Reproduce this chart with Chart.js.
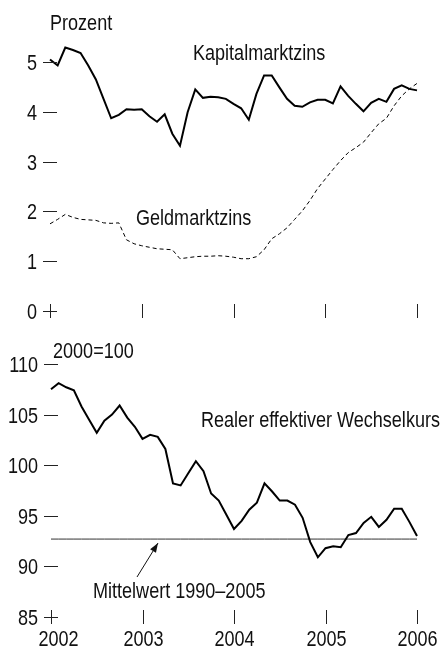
<!DOCTYPE html>
<html>
<head>
<meta charset="utf-8">
<script src="https://cdn.jsdelivr.net/npm/chart.js@4.4.1/dist/chart.umd.min.js"></script>
<style>
  html, body { margin: 0; padding: 0; background: #fff; }
  #wrap { position: relative; width: 442px; height: 649px; }
  .box { position: absolute; left: 0; width: 442px; }
  #top { top: 0; height: 330px; }
  #bottom { top: 330px; height: 319px; }
</style>
</head>
<body>
<div id="wrap">
  <div class="box" id="top"><canvas id="zinsChart"></canvas></div>
  <div class="box" id="bottom"><canvas id="kursChart"></canvas></div>
</div>
<script>
// Monate Jan 2002 bis Jan 2006
const months = [];
for (let y = 2002; y <= 2006; y++) {
    for (let m = 1; m <= 12; m++) {
        if (y === 2006 && m > 1) break;
        months.push(y + '-' + String(m).padStart(2, '0'));
    }
}
const yearLabels = ['2002', '2003', '2004', '2005', '2006'];

// Kapitalmarktzins (Prozent)
const kapitalmarktzins = [
    5.05, 4.93, 5.29, 5.24, 5.18, 4.93, 4.65, 4.26, 3.87, 3.94, 4.05, 4.04,
    4.05, 3.91, 3.80, 3.95, 3.56, 3.32, 3.99, 4.45, 4.28, 4.30, 4.29, 4.26,
    4.16, 4.07, 3.84, 4.36, 4.73, 4.73, 4.49, 4.26, 4.12, 4.10, 4.19, 4.24,
    4.24, 4.17, 4.51, 4.32, 4.16, 4.01, 4.18, 4.26, 4.20, 4.46, 4.53, 4.46,
    4.43
];
// Geldmarktzins (Prozent)
const geldmarktzins = [
    1.75, 1.84, 1.94, 1.88, 1.84, 1.83, 1.82, 1.77, 1.76, 1.77, 1.43, 1.35,
    1.31, 1.28, 1.25, 1.24, 1.23, 1.05, 1.07, 1.09, 1.10, 1.10, 1.11, 1.10,
    1.08, 1.05, 1.05, 1.09, 1.23, 1.45, 1.55, 1.67, 1.84, 2.01, 2.22, 2.46,
    2.65, 2.84, 3.02, 3.18, 3.28, 3.39, 3.58, 3.76, 3.87, 4.12, 4.32, 4.46,
    4.57
];
// Realer effektiver Wechselkurs (2000=100)
const wechselkurs = [
    107.5, 108.1, 107.7, 107.4, 105.8, 104.5, 103.2, 104.4, 105.0, 105.9, 104.7, 103.8,
    102.6, 103.0, 102.8, 101.6, 98.2, 98.0, 99.2, 100.4, 99.4, 97.2, 96.5, 95.1,
    93.7, 94.5, 95.6, 96.3, 98.2, 97.4, 96.5, 96.5, 96.1, 94.8, 92.4, 90.9,
    91.8, 92.0, 91.9, 93.1, 93.3, 94.3, 94.9, 93.9, 94.6, 95.7, 95.7, 94.4,
    93.0
];
const mittelwert = 92.7;

const zinsTicks = [0, 1, 2, 3, 4, 5];
const kursTicks = [85, 90, 95, 100, 105, 110];

// Schrift: schmal wie im Original; ohne Narrow-Schnitt wird gestaucht
const FONT_PX = 22;
const probe = document.createElement('canvas').getContext('2d');
probe.font = FONT_PX + 'px "Liberation Sans Narrow", monospace';
const wNarrow = probe.measureText('Kapitalmarktzins').width;
probe.font = FONT_PX + 'px monospace';
const wMono = probe.measureText('Kapitalmarktzins').width;
const hasNarrow = Math.abs(wNarrow - wMono) > 2;
const squeeze = hasNarrow ? 1 : 0.82;
const fontName = hasNarrow ? '"Liberation Sans Narrow", "Liberation Sans", Arial, sans-serif'
                           : '"Liberation Sans", Arial, sans-serif';

function text(ctx, str, x, y, align) {
    ctx.save();
    ctx.font = FONT_PX + 'px ' + fontName;
    ctx.fillStyle = '#111';
    ctx.textAlign = align || 'left';
    ctx.textBaseline = 'alphabetic';
    ctx.translate(x, y);
    ctx.scale(squeeze, 1);
    ctx.fillText(str, 0, 0);
    ctx.restore();
}

function tickMarks(chart, ticks, showYears) {
    const ctx = chart.ctx;
    const xs = chart.scales.x, ys = chart.scales.y;
    const x0 = xs.getPixelForValue(0);
    const yBase = ys.getPixelForValue(ticks[0]);
    ctx.save();
    ctx.strokeStyle = '#222';
    ctx.lineWidth = 1;
    ticks.forEach(v => {
        const py = Math.round(ys.getPixelForValue(v)) + 0.5;
        ctx.beginPath();
        ctx.moveTo(x0 - 7, py);
        ctx.lineTo(x0 + 7, py);
        ctx.stroke();
        text(ctx, String(v), x0 - 13, py + 7, 'right');
    });
    yearLabels.forEach((yr, i) => {
        const px = Math.round(xs.getPixelForValue(months.indexOf(yr + '-01'))) + 0.5;
        ctx.beginPath();
        ctx.moveTo(px, yBase - 7);
        ctx.lineTo(px, yBase + 7);
        ctx.stroke();
        if (showYears) {
            text(ctx, yr, px + (i === 0 ? 7 : 0), yBase + 29, 'center');
        }
    });
    ctx.restore();
}

const zinsDeko = {
    id: 'zinsDeko',
    afterDraw(chart) {
        tickMarks(chart, zinsTicks, false);
        const ctx = chart.ctx;
        text(ctx, 'Prozent', 50, 30);
        text(ctx, 'Kapitalmarktzins', 193, 60);
        text(ctx, 'Geldmarktzins', 136, 225);
    }
};

const kursDeko = {
    id: 'kursDeko',
    afterDraw(chart) {
        tickMarks(chart, kursTicks, true);
        const ctx = chart.ctx;
        text(ctx, '2000=100', 53, 28);
        text(ctx, 'Realer effektiver Wechselkurs', 201, 97);
        text(ctx, 'Mittelwert 1990\u20132005', 93, 268);
        // Pfeil auf die Mittelwertlinie
        const ys = chart.scales.y;
        const tipX = 158, tipY = ys.getPixelForValue(mittelwert) + 4;
        const fromX = 137, fromY = 247;
        const ang = Math.atan2(tipY - fromY, tipX - fromX);
        ctx.save();
        ctx.strokeStyle = '#111';
        ctx.fillStyle = '#111';
        ctx.lineWidth = 1;
        ctx.beginPath();
        ctx.moveTo(fromX, fromY);
        ctx.lineTo(tipX, tipY);
        ctx.stroke();
        ctx.beginPath();
        ctx.moveTo(tipX, tipY);
        ctx.lineTo(tipX - 10 * Math.cos(ang - 0.35), tipY - 10 * Math.sin(ang - 0.35));
        ctx.lineTo(tipX - 10 * Math.cos(ang + 0.35), tipY - 10 * Math.sin(ang + 0.35));
        ctx.closePath();
        ctx.fill();
        ctx.restore();
    }
};

const baseOptions = (min, max, padding) => ({
    responsive: true,
    maintainAspectRatio: false,
    animation: false,
    events: [],
    layout: { padding: padding },
    plugins: { legend: { display: false }, tooltip: { enabled: false } },
    elements: { point: { radius: 0 }, line: { tension: 0 } },
    scales: {
        x: { display: false, offset: false },
        y: { display: false, min: min, max: max }
    }
});

new Chart(document.getElementById('zinsChart'), {
    type: 'line',
    data: {
        labels: months,
        datasets: [
            { label: 'Kapitalmarktzins', data: kapitalmarktzins, borderColor: '#000', borderWidth: 2, clip: false },
            { label: 'Geldmarktzins', data: geldmarktzins, borderColor: '#000', borderWidth: 1, borderDash: [4, 3], clip: false }
        ]
    },
    options: baseOptions(0, 5, { left: 50, right: 25, top: 62, bottom: 19 }),
    plugins: [zinsDeko]
});

new Chart(document.getElementById('kursChart'), {
    type: 'line',
    data: {
        labels: months,
        datasets: [
            { label: 'Realer effektiver Wechselkurs', data: wechselkurs, borderColor: '#000', borderWidth: 2, clip: false },
            { label: 'Mittelwert 1990-2005', data: months.map(() => mittelwert), borderColor: '#333', borderWidth: 1, clip: false }
        ]
    },
    options: baseOptions(85, 110, { left: 51, right: 25, top: 34, bottom: 32 }),
    plugins: [kursDeko]
});
</script>
</body>
</html>
